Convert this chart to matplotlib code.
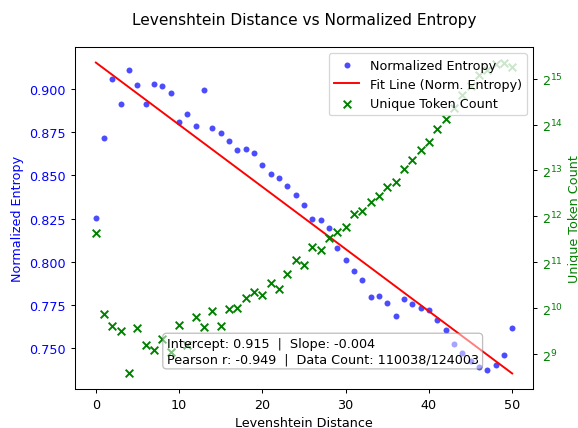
import matplotlib
matplotlib.use("Agg")
import matplotlib.pyplot as plt
import numpy as np

# Levenshtein distance buckets
distance = np.arange(0, 51)

norm_entropy = [0.8252, 0.8716, 0.9060, 0.8913, 0.9107, 0.9023, 0.8913, 0.9029, 0.9020, 0.8975,
                0.8809, 0.8853, 0.8785, 0.8994, 0.8774, 0.8743, 0.8700, 0.8644, 0.8652, 0.8629,
                0.8561, 0.8507, 0.8482, 0.8436, 0.8387, 0.8327, 0.8250, 0.8240, 0.8198, 0.8078,
                0.8008, 0.7947, 0.7896, 0.7794, 0.7803, 0.7759, 0.7687, 0.7786, 0.7757, 0.7732,
                0.7718, 0.7662, 0.7604, 0.7523, 0.7471, 0.7425, 0.7393, 0.7374, 0.7401, 0.7457,
                0.7614]

# log2 of unique token count per bucket
log2_tokens = [11.64, 9.87, 9.62, 9.50, 8.58, 9.57, 9.20, 9.10, 9.32, 9.04,
               9.64, 9.19, 9.80, 9.60, 9.93, 9.62, 9.99, 10.01, 10.23, 10.35,
               10.29, 10.54, 10.42, 10.75, 11.04, 10.95, 11.33, 11.27, 11.54, 11.65,
               11.78, 12.05, 12.12, 12.32, 12.45, 12.63, 12.75, 13.04, 13.22, 13.44,
               13.61, 13.91, 14.13, 14.37, 14.64, 14.85, 15.07, 15.19, 15.32, 15.35,
               15.26]
token_count = 2.0 ** np.array(log2_tokens)

intercept = 0.9153
slope = -0.0036
pearson_r = -0.949
n_used, n_total = 110038, 124003

dpi = 92
fig = plt.figure(figsize=(578 / dpi, 429 / dpi), dpi=dpi)
ax1 = fig.add_axes([0.1298, 0.0909, 0.7924, 0.7972])
ax2 = ax1.twinx()

ax1.scatter(distance, norm_entropy, color='blue', alpha=0.7, s=22, linewidths=0,
            label='Normalized Entropy')
ax1.plot(distance, intercept + slope * distance, color='red', label='Fit Line (Norm. Entropy)')
ax2.scatter(distance, token_count, color='green', marker='x', s=36, label='Unique Token Count')
ax2.set_yscale('log', base=2)

ax1.set_xlabel('Levenshtein Distance')
ax1.set_ylabel('Normalized Entropy', color='blue')
ax1.tick_params(axis='y', labelcolor='blue')
ax2.set_ylabel('Unique Token Count', color='green')
ax2.tick_params(axis='y', labelcolor='green')
ax2.minorticks_off()

h1, l1 = ax1.get_legend_handles_labels()
h2, l2 = ax2.get_legend_handles_labels()
ax2.legend(h1 + h2, l1 + l2, loc='upper right')

txt = (f"Intercept: {intercept:.3f}  |  Slope: {slope:.3f}\n"
       f"Pearson r: {pearson_r:.3f}  |  Data Count: {n_used}/{n_total}")
ax2.text(0.2, 0.07, txt, transform=ax1.transAxes, fontsize=10, va='bottom',
         bbox=dict(boxstyle='round', facecolor='white', edgecolor='grey', alpha=0.5))

fig.suptitle('Levenshtein Distance vs Normalized Entropy', x=0.527, y=0.97)

fig.savefig('out.png', dpi=dpi)
